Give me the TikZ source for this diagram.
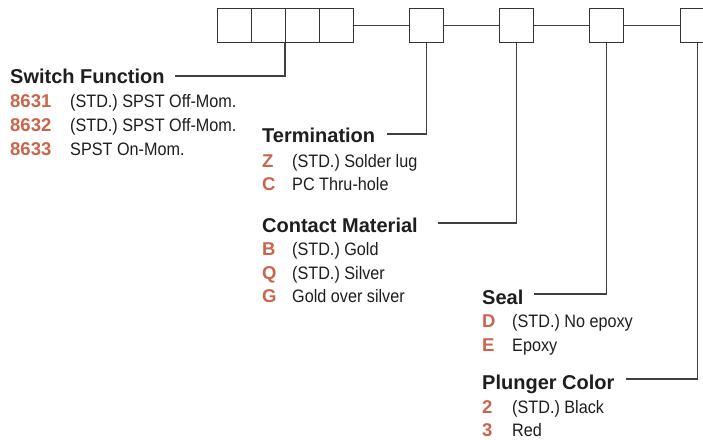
\documentclass[tikz,border=0pt]{standalone}
\usepackage{fontspec}
\setmainfont{Liberation Sans}
\newfontfamily\headfont{Liberation Sans}
\newfontfamily\condfont[FakeStretch=0.9]{Liberation Sans}
\definecolor{codered}{HTML}{C9654A}
\definecolor{txt}{HTML}{1E1E1E}
\begin{document}
\begin{tikzpicture}[x=1pt,y=-1pt,
  cell/.style={draw=black!80,line width=1.2pt,minimum width=34pt,minimum height=34pt,inner sep=0pt,anchor=north west},
  wire/.style={draw=black!75,line width=1.1pt},
  head/.style={anchor=base west,inner sep=0pt,font=\headfont\bfseries\fontsize{20}{22}\selectfont,text=txt},
  code/.style={anchor=base west,inner sep=0pt,font=\headfont\bfseries\fontsize{18.5}{20}\selectfont,text=codered},
  desc/.style={anchor=base west,inner sep=0pt,font=\condfont\fontsize{18}{20}\selectfont,text=txt}]
\useasboundingbox (0,0) rectangle (703,439);
\fill[white] (0,0) rectangle (703,439);
% boxes
\node[cell] (b1) at (217,8) {};
\node[cell] (b2) at (251,8) {};
\node[cell] (b3) at (285,8) {};
\node[cell] (b4) at (319,8) {};
\node[cell] (t) at (409,8) {};
\node[cell] (c) at (499,8) {};
\node[cell] (s) at (589,8) {};
\node[cell] (p) at (680,8) {};
\draw[wire] (b4.east) -- (t.west);
\draw[wire] (t.east) -- (c.west);
\draw[wire] (c.east) -- (s.west);
\draw[wire] (s.east) -- (p.west);
% Switch Function
\node[head] (hsf) at (10,83) {Switch Function};
\node[code] (c1) at (10,107) {8631};
\node[desc] (d1) at (70,107) {(STD.) SPST Off-Mom.};
\node[code] (c2) at (10,131) {8632};
\node[desc] (d2) at (70,131) {(STD.) SPST Off-Mom.};
\node[code] (c3) at (10,155) {8633};
\node[desc] (d3) at (70,155) {SPST On-Mom.};
\coordinate (sfe) at (285,76);
\draw[wire] (175,76) -- (sfe) -- (b3.south west);
% Termination
\node[head] (hte) at (262,142) {Termination};
\node[code] (z) at (262,167) {Z};
\node[desc] (dz) at (292,167) {(STD.) Solder lug};
\node[code] (cc) at (262,190) {C};
\node[desc] (dc) at (292,190) {PC Thru-hole};
\coordinate (tee) at (t.south |- 0,134);
\draw[wire] (387,134) -- (tee) -- (t.south);
% Contact Material
\node[head] (hcm) at (262,232) {Contact Material};
\node[code] (cb) at (262,255) {B};
\node[desc] (db) at (292,255) {(STD.) Gold};
\node[code] (cq) at (262,279) {Q};
\node[desc] (dq) at (292,279) {(STD.) Silver};
\node[code] (cg) at (262,302) {G};
\node[desc] (dg) at (292,302) {Gold over silver};
\coordinate (cme) at (c.south |- 0,223);
\draw[wire] (438,223) -- (cme) -- (c.south);
% Seal
\node[head] (hse) at (482,304) {Seal};
\node[code] (cd) at (482,327) {D};
\node[desc] (dd) at (512,327) {(STD.) No epoxy};
\node[code] (ce) at (482,351) {E};
\node[desc] (de) at (512,351) {Epoxy};
\coordinate (see) at (s.south |- 0,294);
\draw[wire] (534,294) -- (see) -- (s.south);
% Plunger Color
\node[head] (hpc) at (482,389) {Plunger Color};
\node[code] (c2b) at (482,413) {2};
\node[desc] (d2b) at (512,413) {(STD.) Black};
\node[code] (c3b) at (482,436) {3};
\node[desc] (d3b) at (512,436) {Red};
\coordinate (pce) at (p.south |- 0,379);
\draw[wire] (626,379) -- (pce) -- (p.south);
\end{tikzpicture}
\end{document}
